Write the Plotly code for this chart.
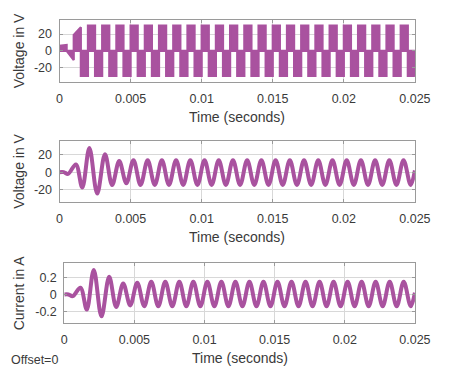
import plotly.graph_objects as go

W, H = 452, 372
LINE = "#A9529F"

time_ticks = [0, 0.005, 0.01, 0.015, 0.02, 0.025]
time_tick_labels = ["0", "0.005", "0.01", "0.015", "0.02", "0.025"]
volt_ticks = [-20, 0, 20]
volt_tick_labels = ["-20", "0", "20"]
curr_ticks = [-0.2, 0, 0.2]
curr_tick_labels = ["-0.2", "0", "0.2"]

# PWM inverter output: one block per half period of the 1 kHz carrier envelope
pwm_t_start = [0.0000, 0.0005, 0.0010, 0.0015, 0.0020, 0.0025, 0.0030, 0.0035, 0.0040, 0.0045,
               0.0050, 0.0055, 0.0060, 0.0065, 0.0070, 0.0075, 0.0080, 0.0085, 0.0090, 0.0095,
               0.0100, 0.0105, 0.0110, 0.0115, 0.0120, 0.0125, 0.0130, 0.0135, 0.0140, 0.0145,
               0.0150, 0.0155, 0.0160, 0.0165, 0.0170, 0.0175, 0.0180, 0.0185, 0.0190, 0.0195,
               0.0200, 0.0205, 0.0210, 0.0215, 0.0220, 0.0225, 0.0230, 0.0235, 0.0240, 0.0245]
pwm_t_end = [0.0005, 0.0010, 0.0015, 0.0020, 0.0025, 0.0030, 0.0035, 0.0040, 0.0045, 0.0050,
             0.0055, 0.0060, 0.0065, 0.0070, 0.0075, 0.0080, 0.0085, 0.0090, 0.0095, 0.0100,
             0.0105, 0.0110, 0.0115, 0.0120, 0.0125, 0.0130, 0.0135, 0.0140, 0.0145, 0.0150,
             0.0155, 0.0160, 0.0165, 0.0170, 0.0175, 0.0180, 0.0185, 0.0190, 0.0195, 0.0200,
             0.0205, 0.0210, 0.0215, 0.0220, 0.0225, 0.0230, 0.0235, 0.0240, 0.0245, 0.0250]
pwm_level_start = [6, 0, 19, -30, 30, -30, 30, -30, 30, -30,
                   30, -30, 30, -30, 30, -30, 30, -30, 30, -30,
                   30, -30, 30, -30, 30, -30, 30, -30, 30, -30,
                   30, -30, 30, -30, 30, -30, 30, -30, 30, -30,
                   30, -30, 30, -30, 30, -30, 30, -30, 30, -30]
pwm_level_end = [7, -11, 28, -30, 30, -30, 30, -30, 30, -30,
                 30, -30, 30, -30, 30, -30, 30, -30, 30, -30,
                 30, -30, 30, -30, 30, -30, 30, -30, 30, -30,
                 30, -30, 30, -30, 30, -30, 30, -30, 30, -30,
                 30, -30, 30, -30, 30, -30, 30, -30, 30, -30]

# Filtered load voltage: turning points
volt_t = [0.0000, 0.0003, 0.0006, 0.00115, 0.0016, 0.0021, 0.00265, 0.0032, 0.0037, 0.0042,
          0.0047, 0.0052, 0.0057, 0.0062, 0.0067, 0.0072, 0.0077, 0.0082, 0.0087, 0.0092,
          0.0097, 0.0102, 0.0107, 0.0112, 0.0117, 0.0122, 0.0127, 0.0132, 0.0137, 0.0142,
          0.0147, 0.0152, 0.0157, 0.0162, 0.0167, 0.0172, 0.0177, 0.0182, 0.0187, 0.0192,
          0.0197, 0.0202, 0.0207, 0.0212, 0.0217, 0.0222, 0.0227, 0.0232, 0.0237, 0.0242,
          0.0247, 0.0250]
volt_v = [0, 0, -2, 9, -18, 28, -25, 21, -15, 13,
          -13, 14, -15, 14, -15, 14, -15, 14, -15, 14,
          -15, 14, -15, 14, -15, 14, -15, 14, -15, 14,
          -15, 14, -15, 14, -15, 14, -15, 14, -15, 14,
          -15, 14, -15, 14, -15, 14, -15, 14, -15, 14,
          -15, 2]

# Load current: turning points
curr_t = volt_t
curr_i = [0, 0, -0.02, 0.08, -0.18, 0.29, -0.26, 0.21, -0.15, 0.13,
          -0.13, 0.14, -0.14, 0.15, -0.14, 0.15, -0.14, 0.15, -0.14, 0.15,
          -0.14, 0.15, -0.14, 0.15, -0.14, 0.15, -0.14, 0.15, -0.14, 0.15,
          -0.14, 0.15, -0.14, 0.15, -0.14, 0.15, -0.14, 0.15, -0.14, 0.15,
          -0.14, 0.15, -0.14, 0.15, -0.14, 0.15, -0.14, 0.15, -0.14, 0.15,
          -0.14, 0.02]

# build PWM block polygons
px, py = [], []
for ts, te, ls, le in zip(pwm_t_start, pwm_t_end, pwm_level_start, pwm_level_end):
    px += [ts, ts, te, te, ts, None]
    py += [0, ls, le, 0, 0, None]

fig = go.Figure()
fig.add_trace(go.Scatter(x=px, y=py, mode="lines", fill="toself", fillcolor=LINE,
                         line=dict(color=LINE, width=2.2), xaxis="x", yaxis="y",
                         hoverinfo="skip"))
fig.add_trace(go.Scatter(x=volt_t, y=volt_v, mode="lines",
                         line=dict(color=LINE, width=4, shape="spline", smoothing=1.0),
                         xaxis="x2", yaxis="y2"))
fig.add_trace(go.Scatter(x=curr_t, y=curr_i, mode="lines",
                         line=dict(color=LINE, width=4, shape="spline", smoothing=1.0),
                         xaxis="x3", yaxis="y3"))

TXT = "#3a3a3a"
FONT = "Liberation Sans, Arial, sans-serif"


def xdom(l, r):
    return [l / W, r / W]


def ydom(t, b):
    return [1 - b / H, 1 - t / H]


common_x = dict(range=[0, 0.025], tickvals=time_ticks, ticktext=time_tick_labels,
                showgrid=True, gridcolor="#d8d8d8", gridwidth=1, zeroline=False,
                showline=True, linecolor="#9a9a9a", linewidth=1, mirror="ticks",
                ticks="inside", ticklen=3, tickcolor="#9a9a9a",
                tickfont=dict(size=12.5, color=TXT, family=FONT),
                ticklabelstandoff=5)
common_y = dict(showgrid=True, gridcolor="#d8d8d8", gridwidth=1, zeroline=False,
                showline=True, linecolor="#9a9a9a", linewidth=1, mirror="ticks",
                ticks="inside", ticklen=3, tickcolor="#9a9a9a",
                tickfont=dict(size=12.5, color=TXT, family=FONT),
                ticklabelstandoff=4)

# initial size leaves room for the default 8px body margin, so the page never overflows;
# the script below removes the margin and sets the final 452x372 size
fig.update_layout(
    width=W - 16, height=H - 16, autosize=False, margin=dict(l=0, r=0, t=0, b=0),
    paper_bgcolor="white", plot_bgcolor="white", showlegend=False,
    xaxis=dict(domain=xdom(59, 430), anchor="y", **common_x),
    yaxis=dict(domain=ydom(20, 82), anchor="x", range=[-37.3, 36.8],
               tickvals=volt_ticks, ticktext=volt_tick_labels, **common_y),
    xaxis2=dict(domain=xdom(59, 430), anchor="y2", **common_x),
    yaxis2=dict(domain=ydom(141, 202), anchor="x2", range=[-34.8, 36.3],
                tickvals=volt_ticks, ticktext=volt_tick_labels, **common_y),
    xaxis3=dict(domain=xdom(64, 430), anchor="y3", **common_x),
    yaxis3=dict(domain=ydom(263, 323), anchor="x3", range=[-0.339, 0.373],
                tickvals=curr_ticks, ticktext=curr_tick_labels, **common_y),
)

ann_font = dict(size=14, color=TXT, family=FONT)
for xc, yc in [(244.5, 117), (244.5, 237), (247, 358)]:
    fig.add_annotation(text="Time (seconds)", xref="paper", yref="paper",
                       x=xc / W, y=1 - yc / H, xanchor="center", yanchor="middle",
                       showarrow=False, font=ann_font)
for txt, yc in [("Voltage in V", 51), ("Voltage in V", 171.5), ("Current in A", 293)]:
    fig.add_annotation(text=txt, xref="paper", yref="paper", textangle=-90,
                       x=17 / W, y=1 - yc / H, xanchor="center", yanchor="middle",
                       showarrow=False, font=ann_font)
fig.add_annotation(text="Offset=0", xref="paper", yref="paper",
                   x=6 / W, y=1 - 360 / H, xanchor="left", yanchor="middle",
                   showarrow=False, font=dict(size=12.5, color=TXT, family=FONT))

fig.write_html(
    "out.html",
    config={"displayModeBar": False, "responsive": False},
    post_script=(
        "document.documentElement.style.margin='0';"
        "document.documentElement.style.overflow='hidden';"
        "document.body.style.margin='0';"
        "document.body.style.overflow='hidden';"
        "var gd=document.getElementById('{plot_id}');"
        "gd.style.position='fixed';gd.style.left='0px';gd.style.top='0px';"
        "gd.style.width='452px';gd.style.height='372px';"
        "Plotly.relayout(gd,{width:452,height:372,autosize:false});"
    ),
)
